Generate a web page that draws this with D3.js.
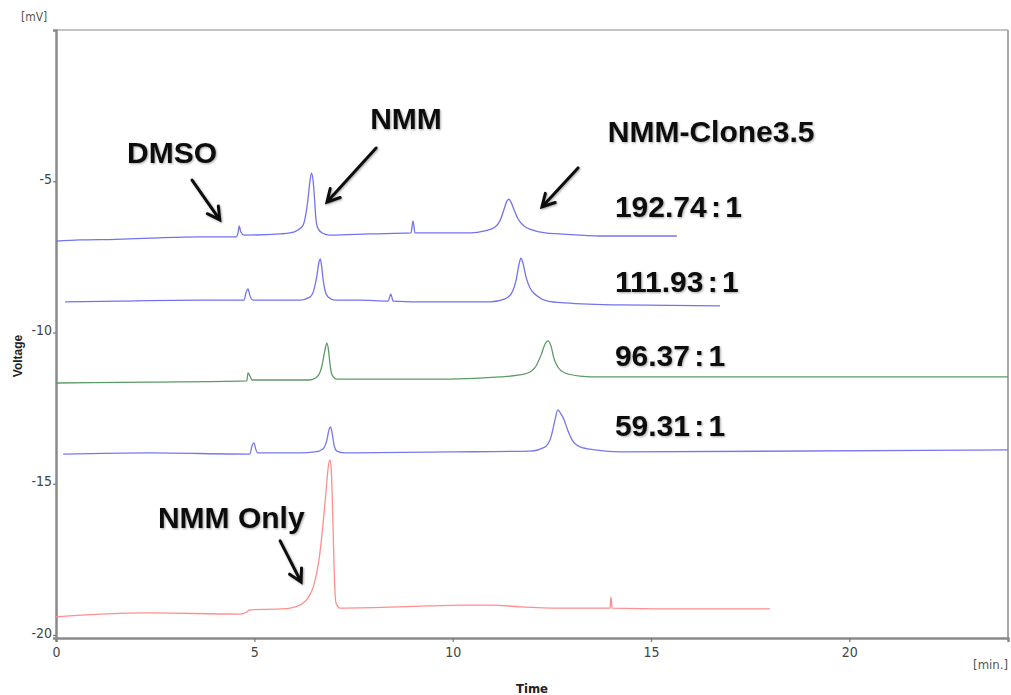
<!DOCTYPE html>
<html>
<head>
<meta charset="utf-8">
<script src="https://cdn.jsdelivr.net/npm/d3@7/dist/d3.min.js"></script>
<style>
  body { margin: 0; background: #fff; }
  svg { display: block; }
</style>
</head>
<body>
<div id="chartArea"></div>
<script>
const margin = {top: 30, right: 3, bottom: 57, left: 56};
const w = 1011;
const h = 695;

// axis ticks
const xTicks = [0, 5, 10, 15, 20];
const yTicks = [-5, -10, -15, -20];

// traces, [time (min), voltage (mV)]
const trace1 = [[0,-6.98],[0.6,-6.94],[1.5,-6.92],[2.4,-6.88],[3.6,-6.84],[4.54,-6.84],[4.59,-6.7],[4.62,-6.48],[4.66,-6.68],
  [4.74,-6.78],[5.65,-6.74],[5.9,-6.71],[6.1,-6.61],[6.23,-6.45],[6.3,-6.08],[6.35,-5.62],[6.4,-5.02],[6.44,-4.73],
  [6.48,-4.96],[6.52,-5.62],[6.55,-6.21],[6.6,-6.55],[6.71,-6.71],[6.91,-6.78],[7.92,-6.74],[8.95,-6.71],[9.0,-6.31],
  [9.05,-6.71],[9.93,-6.71],[10.44,-6.71],[10.81,-6.64],[11.07,-6.51],[11.19,-6.31],[11.29,-5.95],[11.37,-5.65],
  [11.42,-5.59],[11.47,-5.69],[11.55,-5.95],[11.65,-6.25],[11.8,-6.48],[12.0,-6.61],[12.33,-6.71],[12.7,-6.74],
  [13.71,-6.81],[15.65,-6.81]];

const trace2 = [[0.23,-8.99],[1.61,-8.96],[3.63,-8.93],[4.74,-8.93],[4.79,-8.69],[4.84,-8.56],[4.89,-8.79],[4.97,-8.93],
  [5.9,-8.93],[6.15,-8.93],[6.4,-8.83],[6.5,-8.6],[6.58,-8.1],[6.63,-7.67],[6.66,-7.57],[6.69,-7.74],[6.73,-8.2],
  [6.78,-8.6],[6.86,-8.83],[7.03,-8.93],[7.66,-8.93],[8.37,-8.96],[8.44,-8.73],[8.5,-8.96],[9.43,-8.99],[10.94,-8.99],
  [11.32,-8.89],[11.49,-8.69],[11.6,-8.26],[11.67,-7.77],[11.72,-7.54],[11.77,-7.7],[11.85,-8.17],[11.95,-8.53],
  [12.13,-8.79],[12.4,-8.96],[12.83,-9.02],[14.22,-9.09],[16.74,-9.12]];

const trace3 = [[0,-11.67],[2.37,-11.64],[4.81,-11.6],[4.84,-11.34],[4.89,-11.44],[4.94,-11.57],[5.9,-11.57],[6.4,-11.57],
  [6.6,-11.44],[6.71,-11.07],[6.78,-10.58],[6.83,-10.35],[6.87,-10.58],[6.91,-11.07],[6.96,-11.4],[7.08,-11.54],
  [9.93,-11.54],[11.19,-11.47],[11.82,-11.37],[12.07,-11.17],[12.23,-10.74],[12.33,-10.38],[12.4,-10.28],[12.48,-10.45],
  [12.55,-10.84],[12.65,-11.14],[12.83,-11.34],[13.21,-11.44],[13.71,-11.47],[18.75,-11.47],[24,-11.47]];

const trace4 = [[0.18,-14.02],[2.37,-13.98],[4.89,-14.02],[4.94,-13.75],[4.99,-13.65],[5.04,-13.88],[5.09,-13.98],
  [6.15,-13.98],[6.53,-13.95],[6.73,-13.85],[6.83,-13.55],[6.88,-13.22],[6.92,-13.12],[6.96,-13.32],[7.01,-13.72],
  [7.08,-13.92],[7.29,-13.98],[9.93,-13.95],[11.95,-13.92],[12.33,-13.78],[12.48,-13.45],[12.58,-12.89],[12.65,-12.56],
  [12.73,-12.69],[12.81,-12.89],[12.88,-13.16],[13.01,-13.55],[13.21,-13.78],[13.59,-13.88],[14.22,-13.95],[24,-13.88]];

const trace5 = [[0,-19.4],[1.11,-19.31],[2.37,-19.27],[4.64,-19.31],[4.81,-19.24],[4.89,-19.17],[5.65,-19.14],[5.9,-19.11],
  [6.15,-19.01],[6.35,-18.78],[6.5,-18.35],[6.63,-17.52],[6.73,-16.36],[6.81,-15.21],[6.87,-14.38],[6.91,-14.21],
  [6.94,-14.55],[6.98,-16.2],[7.02,-18.18],[7.06,-18.94],[7.16,-19.11],[8.67,-19.07],[9.43,-19.04],[10.18,-19.01],
  [10.94,-19.01],[11.7,-19.07],[12.7,-19.11],[13.97,-19.11],[13.99,-18.74],[14.02,-19.11],[16.23,-19.14],[18.0,-19.14]];

const traces = [trace1, trace2, trace3, trace4, trace5];
const traceColors = ["#7373ee", "#7373ee", "#5c9a66", "#7878ee", "#ff8f8f"];

// ratio labels next to the traces
const ratioLabels = ["192.74 : 1", "111.93 : 1", "96.37 : 1", "59.31 : 1"];
const ratioY = [-6.18, -8.66, -11.11, -13.42];
const ratioT = 14.09;

// peak names and their arrows: text position, arrow tail, arrow tip
const peakNames = ["DMSO", "NMM", "NMM-Clone3.5", "NMM Only"];
const peakTextPos = [[1.79,-4.4],[7.92,-3.27],[13.91,-3.7],[2.57,-16.46]];
const arrowTail = [[3.43,-4.96],[8.07,-3.9],[13.16,-4.56],[5.65,-16.89]];
const arrowTip = [[4.13,-6.28],[6.83,-5.69],[12.25,-5.85],[6.18,-18.25]];

const svg = d3.select("#chartArea")
  .append("svg")
  .attr("width", w)
  .attr("height", h);

const defs = svg.append("defs");
const shadow = defs.append("filter").attr("id", "shadow")
  .attr("x", "-20%").attr("y", "-20%").attr("width", "140%").attr("height", "140%");
shadow.append("feDropShadow")
  .attr("dx", 1).attr("dy", 1).attr("stdDeviation", 1)
  .attr("flood-color", "#000").attr("flood-opacity", 0.35);

const x = d3.scaleLinear()
  .domain([0, 24])
  .range([margin.left, w - margin.right]);

const y = d3.scaleLinear()
  .domain([-20.1, 0])
  .range([h - margin.bottom, margin.top]);

// frame: light top/right, darker axes
svg.append("line")
  .attr("x1", x(0)).attr("x2", x(24))
  .attr("y1", y(0)).attr("y2", y(0))
  .attr("stroke", "#c4c4c4").attr("stroke-width", 2);
svg.append("line")
  .attr("x1", x(24)).attr("x2", x(24))
  .attr("y1", y(0)).attr("y2", y(-20.1))
  .attr("stroke", "#a8a8a8").attr("stroke-width", 2);

const xAxis = d3.axisBottom(x)
  .tickValues(xTicks)
  .tickSize(4)
  .tickPadding(5)
  .tickFormat(d => String(d));

const yAxis = d3.axisLeft(y)
  .tickValues(yTicks)
  .tickSize(3)
  .tickPadding(1)
  .tickFormat(d => String(d));

const gx = svg.append("g")
  .attr("transform", `translate(0,${h - margin.bottom})`)
  .call(xAxis);

const gy = svg.append("g")
  .attr("transform", `translate(${margin.left},0)`)
  .call(yAxis);

[gx, gy].forEach(g => {
  g.select(".domain").attr("stroke", "#8a8a8a").attr("stroke-width", 2.5);
  g.selectAll(".tick line").attr("stroke", "#777").attr("stroke-width", 1.2);
  g.selectAll(".tick text")
    .attr("fill", "#444")
    .style("font-family", "'Liberation Sans Narrow', 'DejaVu Sans Condensed', sans-serif")
    .style("font-size", "14px");
});
gy.selectAll(".tick text").attr("dy", "0.15em");

// unit labels
svg.append("text")
  .attr("x", 21).attr("y", 21)
  .attr("fill", "#555")
  .style("font-family", "'Liberation Sans Narrow', 'DejaVu Sans Condensed', sans-serif")
  .style("font-size", "12px")
  .text("[mV]");

svg.append("text")
  .attr("x", 1008).attr("y", 669)
  .attr("text-anchor", "end")
  .attr("fill", "#555")
  .style("font-family", "'Liberation Sans Narrow', 'DejaVu Sans Condensed', sans-serif")
  .style("font-size", "13px")
  .text("[min.]");

svg.append("text")
  .attr("x", 532).attr("y", 693)
  .attr("text-anchor", "middle")
  .attr("fill", "#222")
  .attr("font-weight", "bold")
  .style("font-family", "'Liberation Sans Narrow', 'DejaVu Sans Condensed', sans-serif")
  .style("font-size", "13px")
  .text("Time");

svg.append("text")
  .attr("transform", "translate(22,356) rotate(-90)")
  .attr("text-anchor", "middle")
  .attr("fill", "#222")
  .attr("font-weight", "bold")
  .style("font-family", "'Liberation Sans', Arial, sans-serif")
  .style("font-size", "12px")
  .text("Voltage");

// traces
const line = d3.line()
  .x(d => x(d[0]))
  .y(d => y(d[1]))
  .curve(d3.curveMonotoneX);

svg.append("g")
  .selectAll("path")
  .data(traces)
  .enter()
  .append("path")
  .attr("d", line)
  .attr("fill", "none")
  .attr("stroke", (d, i) => traceColors[i])
  .attr("stroke-width", 1.3)
  .attr("stroke-linejoin", "round");

// annotations
const labelFont = "'Liberation Sans', Arial, Helvetica, sans-serif";

svg.append("g")
  .selectAll("text")
  .data(peakNames)
  .enter()
  .append("text")
  .attr("x", (d, i) => x(peakTextPos[i][0]))
  .attr("y", (d, i) => y(peakTextPos[i][1]))
  .attr("fill", "#111")
  .attr("font-weight", "bold")
  .attr("filter", "url(#shadow)")
  .style("font-family", labelFont)
  .style("font-size", "30px")
  .text(d => d);

svg.append("g")
  .selectAll("text")
  .data(ratioLabels)
  .enter()
  .append("text")
  .attr("x", x(ratioT))
  .attr("y", (d, i) => y(ratioY[i]))
  .attr("fill", "#111")
  .attr("font-weight", "bold")
  .attr("filter", "url(#shadow)")
  .style("font-family", labelFont)
  .style("font-size", "30px")
  .style("word-spacing", "-4px")
  .text(d => d);

function arrowPath(i) {
  const x0 = x(arrowTail[i][0]), y0 = y(arrowTail[i][1]);
  const x1 = x(arrowTip[i][0]), y1 = y(arrowTip[i][1]);
  const a = Math.atan2(y1 - y0, x1 - x0);
  const len = 14, spread = 0.5;
  const p = d3.path();
  p.moveTo(x0, y0);
  p.lineTo(x1, y1);
  p.moveTo(x1 - len * Math.cos(a - spread), y1 - len * Math.sin(a - spread));
  p.lineTo(x1, y1);
  p.lineTo(x1 - len * Math.cos(a + spread), y1 - len * Math.sin(a + spread));
  return p.toString();
}

svg.append("g")
  .selectAll("path")
  .data(peakNames)
  .enter()
  .append("path")
  .attr("d", (d, i) => arrowPath(i))
  .attr("fill", "none")
  .attr("stroke", "#111")
  .attr("stroke-width", 3)
  .attr("stroke-linecap", "round")
  .attr("stroke-linejoin", "miter")
  .attr("filter", "url(#shadow)");
</script>
</body>
</html>
